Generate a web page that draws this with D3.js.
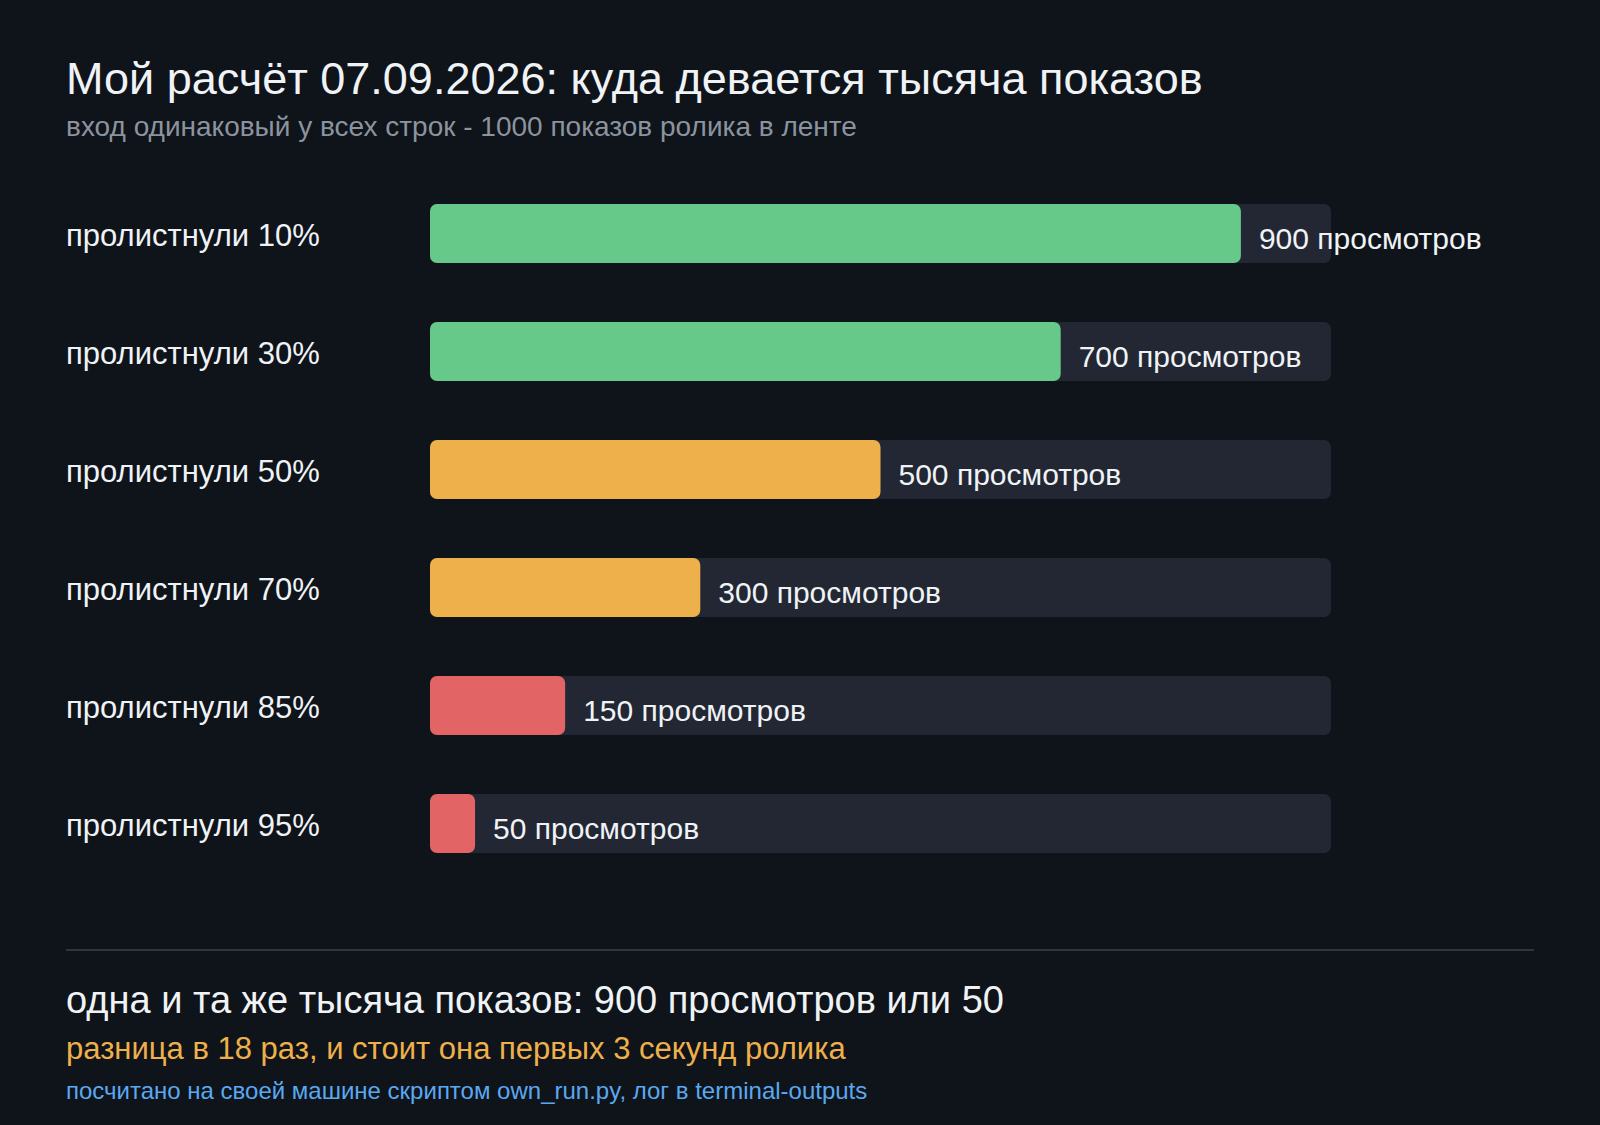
<!DOCTYPE html>
<html>
<head>
<meta charset="utf-8">
<script src="https://cdn.jsdelivr.net/npm/d3@7"></script>
<style>
  html, body { margin: 0; padding: 0; background: #0f131a; }
  svg { display: block; font-family: "Liberation Sans", Arial, sans-serif; }
</style>
</head>
<body>
<svg id="chart" width="1600" height="1125"></svg>
<script>
const categories = ['пролистнули 10%', 'пролистнули 30%', 'пролистнули 50%', 'пролистнули 70%', 'пролистнули 85%', 'пролистнули 95%'];
const views = [900, 700, 500, 300, 150, 50];
const barColors = ['#66c98a', '#66c98a', '#eeb04a', '#eeb04a', '#e36464', '#e36464'];
const total = 1000;
const valueSuffix = ' просмотров';

const title = 'Мой расчёт 07.09.2026: куда девается тысяча показов';
const subtitle = 'вход одинаковый у всех строк - 1000 показов ролика в ленте';
const footLines = [
  'одна и та же тысяча показов: 900 просмотров или 50',
  'разница в 18 раз, и стоит она первых 3 секунд ролика',
  'посчитано на своей машине скриптом own_run.py, лог в terminal-outputs'
];

const svg = d3.select('#chart');
const left = 66;

svg.append('rect').attr('width', 1600).attr('height', 1125).attr('fill', '#0f131a');

svg.append('text').attr('x', left).attr('y', 94)
  .attr('fill', '#f0f3f6').attr('font-size', 45).text(title);
svg.append('text').attr('x', left).attr('y', 136)
  .attr('fill', '#8b949e').attr('font-size', 28).text(subtitle);

const x = d3.scaleLinear().domain([0, total]).range([430, 1331]);
const y = d3.scaleBand().domain(categories).range([174.5, 882.5])
  .paddingInner(0.5).paddingOuter(0.25);

const rows = svg.append('g').selectAll('g').data(categories).enter().append('g');

rows.append('text')
  .attr('x', left)
  .attr('y', d => y(d) + y.bandwidth() / 2 + 12)
  .attr('fill', '#f0f3f6').attr('font-size', 31)
  .text(d => d);

rows.append('rect')
  .attr('x', x(0)).attr('y', d => y(d))
  .attr('width', x(total) - x(0)).attr('height', y.bandwidth())
  .attr('rx', 7).attr('fill', '#222733');

rows.append('rect')
  .attr('x', x(0)).attr('y', d => y(d))
  .attr('width', (d, i) => x(views[i]) - x(0)).attr('height', y.bandwidth())
  .attr('rx', 7).attr('fill', (d, i) => barColors[i]);

rows.append('text')
  .attr('x', (d, i) => x(views[i]) + 18)
  .attr('y', d => y(d) + y.bandwidth() / 2 + 15)
  .attr('fill', '#f0f3f6').attr('font-size', 30)
  .text((d, i) => views[i] + valueSuffix);

svg.append('line').attr('x1', left).attr('x2', 1534).attr('y1', 950).attr('y2', 950)
  .attr('stroke', '#30363d').attr('stroke-width', 2);

svg.append('text').attr('x', left).attr('y', 1013)
  .attr('fill', '#f0f3f6').attr('font-size', 38).text(footLines[0]);
svg.append('text').attr('x', left).attr('y', 1059)
  .attr('fill', '#eeb04a').attr('font-size', 31).text(footLines[1]);
svg.append('text').attr('x', left).attr('y', 1099)
  .attr('fill', '#5aa9f0').attr('font-size', 24).text(footLines[2]);
</script>
</body>
</html>
